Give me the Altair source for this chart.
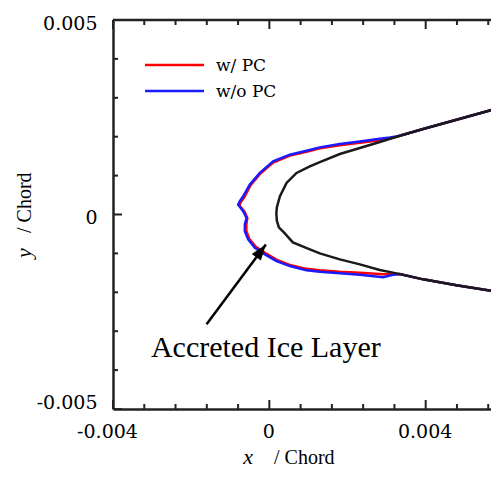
import math
import altair as alt
import pandas as pd

# ---------------- data (x / Chord, y / Chord) ----------------
black_x = [0.00587, 0.005639, 0.004788, 0.003934, 0.003338, 0.002826, 0.002315, 0.001803, 0.001292,
           0.001036, 0.000696, 0.00044, 0.000269, 0.000192, 0.000179, 0.000192, 0.000243, 0.000396,
           0.000601, 0.001036, 0.001292, 0.001803, 0.002315, 0.002826, 0.003253, 0.003934, 0.004788, 0.00587]
black_y = [0.002736, 0.002674, 0.002436, 0.002197, 0.002026, 0.001864, 0.00171, 0.001556, 0.001346,
           0.001238, 0.001069, 0.000813, 0.000462, 0.000179, 0.000026, -0.000154, -0.000333, -0.000487,
           -0.000718, -0.000897, -0.001, -0.001154, -0.001282, -0.001428, -0.001513, -0.001667, -0.001821, -0.001992]

blue_x = [0.00587, 0.005639, 0.004788, 0.003934, 0.003338, 0.003253, 0.003082, 0.002826, 0.002315,
          0.001803, 0.001292, 0.000951, 0.000524, 0.000097, -0.000243, -0.000499, -0.00067, -0.000754,
          -0.000798, -0.00067, -0.000583, -0.000627, -0.000627, -0.000542, -0.000371, -0.000115, 0.000184,
          0.000524, 0.000951, 0.001292, 0.001803, 0.002315, 0.00291, 0.003166, 0.003338, 0.003934, 0.004788, 0.00587]
blue_y = [0.002736, 0.002674, 0.002436, 0.002197, 0.002026, 0.002008, 0.001982, 0.001949, 0.001879,
          0.001813, 0.001726, 0.001641, 0.001538, 0.001367, 0.001069, 0.000769, 0.000469, 0.000341,
          0.000256, 0.000085, -0.000085, -0.000256, -0.000428, -0.000641, -0.000854, -0.001026, -0.001197,
          -0.001326, -0.001436, -0.001474, -0.001513, -0.001551, -0.001615, -0.001551, -0.001531, -0.001667, -0.001821, -0.001992]

red_x = [0.00587, 0.005639, 0.004788, 0.003934, 0.003338, 0.003253, 0.003082, 0.002826, 0.002315,
         0.001803, 0.001292, 0.000951, 0.000524, 0.000097, -0.000243, -0.000486, -0.000639, -0.000729,
         -0.000767, -0.000639, -0.000563, -0.000588, -0.000588, -0.000512, -0.000345, -0.00009, 0.000192,
         0.000524, 0.000951, 0.001292, 0.001803, 0.002315, 0.00291, 0.003166, 0.003338, 0.003934, 0.004788, 0.00587]
red_y = [0.002736, 0.002674, 0.002436, 0.002197, 0.002026, 0.002, 0.001962, 0.00191, 0.001846,
         0.001782, 0.001705, 0.001615, 0.001513, 0.001333, 0.001038, 0.000744, 0.000449, 0.000321,
         0.000231, 0.000077, -0.00009, -0.000256, -0.000423, -0.000628, -0.000833, -0.001, -0.001167,
         -0.001295, -0.001397, -0.001436, -0.001474, -0.0015, -0.001538, -0.001538, -0.001531, -0.001667, -0.001821, -0.001992]

x_major = [-0.004, 0.0, 0.004]
x_minor = [-0.0032, -0.0024, -0.0016, -0.0008, 0.0008, 0.0016, 0.0024, 0.0032, 0.0048, 0.0056]
y_major = [-0.005, 0.0, 0.005]
y_minor = [-0.004, -0.003, -0.002, -0.001, 0.001, 0.002, 0.003, 0.004]

legend_labels = ["w/ PC", "w/o PC"]
annotation = "Accreted Ice Layer"
arrow_x = [-0.001606, -0.000089]   # tail, tip
arrow_y = [-0.002821, -0.000769]
annot_x = [-0.00009]
annot_y = [-0.003665]

# ---------------- layout ----------------
W, H = 378, 389
XMIN, XMAX = -0.004, 0.005671
YMIN, YMAX = -0.005, 0.005
AX = "#222222"
RED, BLUE = "#ff0000", "#1a1aff"
TICKF = "DejaVu Serif"
TXTF = "Liberation Serif"

xs = alt.Scale(domain=[XMIN, XMAX], nice=False, zero=False)
ys = alt.Scale(domain=[YMIN, YMAX], nice=False, zero=False)

label_expr = "datum.value == 0 ? '0' : (datum.value < 0 ? '-' : '') + format(abs(datum.value), '.3f')"

xaxis = alt.Axis(values=x_major, ticks=False, grid=False, domainColor=AX, domainWidth=2.5,
                 labelFont=TICKF, labelFontSize=19, labelColor="black", labelPadding=13,
                 labelFlush=False, labelOverlap=False, labelExpr=label_expr, title="",
                 labelOffset={"condition": {"test": "datum.value < -0.003", "value": -6},
                              "value": -1})
yaxis = alt.Axis(values=y_major, ticks=False, grid=False, domainColor=AX, domainWidth=2.5,
                 labelFont=TICKF, labelFontSize=19, labelColor="black", labelPadding=16,
                 labelOffset=3, labelOverlap=False, labelExpr=label_expr, title="",
                 labelBaseline={"condition": {"test": "datum.value < -0.004", "value": "bottom"},
                                "value": "middle"})

X = alt.X("x:Q", scale=xs, axis=xaxis)
Y = alt.Y("y:Q", scale=ys, axis=yaxis)


def curve(xv, yv):
    return pd.DataFrame({"x": xv, "y": yv, "i": list(range(len(xv)))})


red = alt.Chart(curve(red_x, red_y)).mark_line(color=RED, strokeWidth=2.5, clip=True).encode(
    x=X, y=Y, order="i:Q")
blue = alt.Chart(curve(blue_x, blue_y)).mark_line(color=BLUE, strokeWidth=2.5, clip=True).encode(
    x=X, y=Y, order="i:Q")
black = alt.Chart(curve(black_x, black_y)).mark_line(color="#1a1a1a", strokeWidth=2.5, clip=True).encode(
    x=X, y=Y, order="i:Q")

layers = [red, blue, black]

# inward ticks
xmaj = pd.DataFrame({"x": x_major})
xmin_ = pd.DataFrame({"x": x_minor})
ymaj = pd.DataFrame({"y": y_major})
ymin_ = pd.DataFrame({"y": y_minor})
for df, ln in ((xmaj, 9), (xmin_, 5)):
    layers.append(alt.Chart(df).mark_rule(color=AX, strokeWidth=2).encode(
        x=X, y=alt.value(H), y2=alt.value(H - ln)))
    layers.append(alt.Chart(df).mark_rule(color=AX, strokeWidth=2).encode(
        x=X, y=alt.value(0), y2=alt.value(ln)))
for df, ln in ((ymaj, 9), (ymin_, 5)):
    layers.append(alt.Chart(df).mark_rule(color=AX, strokeWidth=2).encode(
        y=Y, x=alt.value(0), x2=alt.value(ln)))

one = alt.Data(values=[{}])
# top frame line
layers.append(alt.Chart(one).mark_rule(color=AX, strokeWidth=2.5).encode(
    x=alt.value(0), x2=alt.value(W), y=alt.value(0)))

# legend
for k, (lab, col) in enumerate(zip(legend_labels, [RED, BLUE])):
    yy = 45 + 26 * k
    layers.append(alt.Chart(one).mark_rule(color=col, strokeWidth=2.5).encode(
        x=alt.value(32), x2=alt.value(91), y=alt.value(yy)))
    layers.append(alt.Chart(one).mark_text(text=lab, font=TICKF, fontSize=17, color="black",
                                           align="left", baseline="middle").encode(
        x=alt.value(103), y=alt.value(yy + 1)))

# arrow
arrow = pd.DataFrame({"x": arrow_x, "y": arrow_y})
layers.append(alt.Chart(arrow).mark_line(color="black", strokeWidth=2.5).encode(x=X, y=Y))
dxp = (arrow_x[1] - arrow_x[0]) * W / (XMAX - XMIN)
dyp = -(arrow_y[1] - arrow_y[0]) * H / (YMAX - YMIN)
ang = math.degrees(math.atan2(dxp, -dyp)) % 360
tip = pd.DataFrame({"x": arrow_x[1:], "y": arrow_y[1:]})
layers.append(alt.Chart(tip).mark_point(shape="M0,0L0.7,2L-0.7,2Z", size=256, filled=True,
                                        color="black", opacity=1, angle=ang).encode(x=X, y=Y))

# annotation text
ann = pd.DataFrame({"x": annot_x, "y": annot_y, "t": [annotation]})
layers.append(alt.Chart(ann).mark_text(font=TXTF, fontSize=30, color="black", align="center",
                                       baseline="alphabetic").encode(x=X, y=Y, text="t:N"))

# axis titles (italic variable + " / Chord")
layers.append(alt.Chart(one).mark_text(text="x", font=TXTF, fontSize=22, fontStyle="italic",
                                       color="black", align="center", baseline="alphabetic").encode(
    x=alt.value(135), y=alt.value(444)))
layers.append(alt.Chart(one).mark_text(text="/ Chord", font=TXTF, fontSize=20, color="black",
                                       align="left", baseline="alphabetic").encode(
    x=alt.value(161), y=alt.value(444)))
layers.append(alt.Chart(one).mark_text(text="y", font=TXTF, fontSize=22, fontStyle="italic",
                                       color="black", align="center", baseline="alphabetic",
                                       angle=270).encode(
    x=alt.value(-82), y=alt.value(233)))
layers.append(alt.Chart(one).mark_text(text="/ Chord", font=TXTF, fontSize=20, color="black",
                                       align="left", baseline="alphabetic", angle=270).encode(
    x=alt.value(-82), y=alt.value(213)))

chart = alt.layer(*layers).properties(
    width=W, height=H,
    autosize=alt.AutoSizeParams(type="none"),
    padding={"left": 105, "top": 12, "right": 0, "bottom": 61},
).configure_view(stroke=None)

chart.save("out.html", embed_options={"renderer": "svg", "actions": False})
